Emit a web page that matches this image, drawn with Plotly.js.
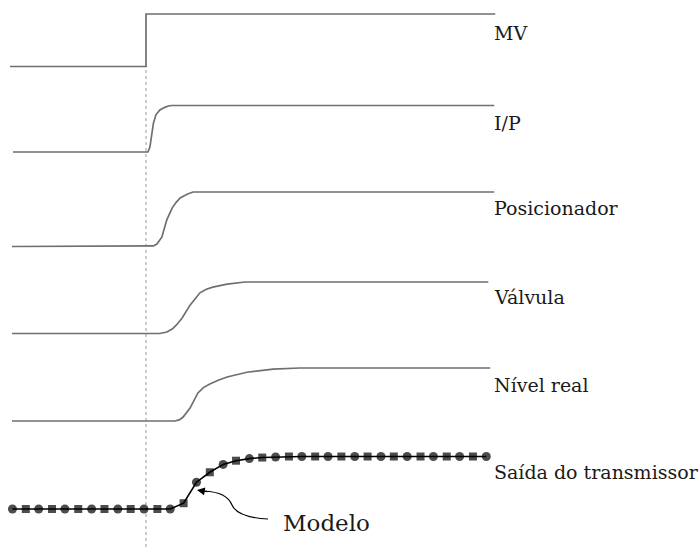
<!DOCTYPE html>
<html>
<head>
<meta charset="utf-8">
<script src="https://cdn.plot.ly/plotly-3.0.1.min.js"></script>
<style>html,body{margin:0;padding:0;background:#fff;}#chart{width:699px;height:547px;}</style>
</head>
<body>
<div id="chart"></div>
<script>
// ---- data (time in arbitrary units, step at t = 0; responses normalised 0..1) ----
const stepTime = 0;
const labels = ["MV", "I/P", "Posicionador", "Válvula", "Nível real", "Saída do transmissor"];
const modelLabel = "Modelo";

const tMV = [-2.75, 0, 0, 7.06];
const yMV = [0, 0, 1, 1];

const tIP = [-2.69, 0.04, 0.08, 0.115, 0.15, 0.20, 0.28, 0.38, 0.45, 0.52, 7.04];
const yIP = [0, 0, 0.11, 0.40, 0.62, 0.80, 0.905, 0.96, 0.99, 1, 1];

const tPos = [-2.71, 0.08, 0.15, 0.22, 0.32, 0.42, 0.53, 0.61, 0.69, 0.83, 0.95, 7.04];
const yPos = [0, 0, 0.01, 0.046, 0.17, 0.49, 0.71, 0.81, 0.89, 0.96, 1, 1];

const tVal = [-2.71, 0.28, 0.42, 0.53, 0.63, 0.73, 0.89, 0.99, 1.09, 1.22, 1.35, 1.64, 2.0, 6.92];
const yVal = [0, 0, 0.03, 0.087, 0.18, 0.30, 0.55, 0.68, 0.79, 0.86, 0.90, 0.96, 1, 1];

const tNiv = [-2.71, 0.59, 0.68, 0.75, 0.89, 1.05, 1.16, 1.29, 1.46, 1.64, 2.04, 2.57, 3.11, 6.96];
const yNiv = [0, 0, 0.025, 0.075, 0.245, 0.53, 0.63, 0.70, 0.77, 0.83, 0.92, 0.98, 1, 1];

const tSai = [-2.70, -2.43, -2.17, -1.90, -1.64, -1.37, -1.10, -0.84, -0.57, -0.31, -0.04,
              0.23, 0.49, 0.76, 1.02, 1.29, 1.56, 1.82, 2.09, 2.35, 2.62, 2.89, 3.15, 3.42,
              3.68, 3.95, 4.22, 4.48, 4.75, 5.01, 5.28, 5.55, 5.81, 6.08, 6.34, 6.61, 6.88];
const ySai = [0, 0, 0, 0, 0, 0, 0, 0, 0, 0, 0,
              0, 0, 0.11, 0.51, 0.70, 0.85, 0.92, 0.96, 0.98, 0.99, 1, 1, 1,
              1, 1, 1, 1, 1, 1, 1, 1, 1, 1, 1, 1, 1];

// ---- layout helpers (pixel -> paper) ----
const W = 699, H = 547;
const px = x => x / W;
const py = y => 1 - y / H;

const grey = '#6f6f6f';
const lineStyle = {color: grey, width: 1.7, shape: 'linear'};

const traces = [
  {x: tMV, y: yMV, yaxis: 'y', mode: 'lines', line: lineStyle},
  {x: tIP, y: yIP, yaxis: 'y2', mode: 'lines', line: lineStyle},
  {x: tPos, y: yPos, yaxis: 'y3', mode: 'lines', line: lineStyle},
  {x: tVal, y: yVal, yaxis: 'y4', mode: 'lines', line: lineStyle},
  {x: tNiv, y: yNiv, yaxis: 'y5', mode: 'lines', line: lineStyle},
  {x: tSai, y: ySai, yaxis: 'y6', mode: 'lines+markers', cliponaxis: false,
   line: {color: '#000', width: 1.6, shape: 'linear'},
   marker: {color: '#000', size: tSai.map((_, i) => i % 2 ? 8 : 9), line: {width: 0},
            symbol: tSai.map((_, i) => i % 2 ? 'square' : 'circle')}}
];

// y-domains from the pixel bands (low level, high level); range padded so lines are not clipped
const bands = [[66.5, 14], [152, 105.5], [246.5, 192], [333.5, 282], [421, 368], [509, 456.5]];
const pad = 0.15;
const hidden = {visible: false, showgrid: false, zeroline: false, fixedrange: true};

const serif = 'DejaVu Serif';

const layout = {
  width: W, height: H,
  margin: {l: 0, r: 0, t: 0, b: 0},
  paper_bgcolor: '#fff', plot_bgcolor: '#fff',
  showlegend: false,
  font: {family: serif, size: 19, color: '#1a1a1a'},
  xaxis: Object.assign({range: [-2.952, 11.18], domain: [0, 1]}, hidden),
  shapes: [
    {type: 'line', xref: 'x', yref: 'paper', x0: stepTime, x1: stepTime, y0: 0, y1: py(66),
     line: {color: '#9a9a9a', width: 1, dash: 'dot'}, layer: 'below'},
    {type: 'path', xref: 'paper', yref: 'paper',
     path: 'M ' + px(268) + ' ' + py(519) +
           ' C ' + px(248) + ' ' + py(518) + ', ' + px(236) + ' ' + py(514) + ', ' + px(232) + ' ' + py(505) +
           ' C ' + px(228) + ' ' + py(496) + ', ' + px(220) + ' ' + py(492) + ', ' + px(204) + ' ' + py(491),
     line: {color: '#000', width: 1.2}}
  ],
  annotations: []
};

bands.forEach((b, i) => {
  const key = i === 0 ? 'yaxis' : 'yaxis' + (i + 1);
  const lo = py(b[0]), hi = py(b[1]), span = hi - lo;
  layout[key] = Object.assign({range: [-pad, 1 + pad], domain: [lo - pad * span, hi + pad * span]}, hidden);
});

const labelY = [32.5, 121.7, 206.7, 296, 384, 471];
labels.forEach((txt, i) => {
  layout.annotations.push({text: txt, xref: 'paper', yref: 'paper', x: px(492), y: py(labelY[i] + 1),
    xanchor: 'left', yanchor: 'middle', showarrow: false,
    font: {family: serif, size: 19, color: '#1a1a1a'}});
});
layout.annotations.push({text: modelLabel, xref: 'paper', yref: 'paper', x: px(281), y: py(522.5),
  xanchor: 'left', yanchor: 'middle', showarrow: false,
  font: {family: serif, size: 23, color: '#1a1a1a'}});
// arrow head of the "Modelo" pointer
layout.annotations.push({text: '', xref: 'paper', yref: 'paper', x: px(197), y: py(490),
  ax: 12, ay: 2, showarrow: true, arrowhead: 2, arrowsize: 1.3, arrowwidth: 1.2, arrowcolor: '#000'});

Plotly.newPlot('chart', traces, layout, {staticPlot: true, displayModeBar: false});
</script>
</body>
</html>
